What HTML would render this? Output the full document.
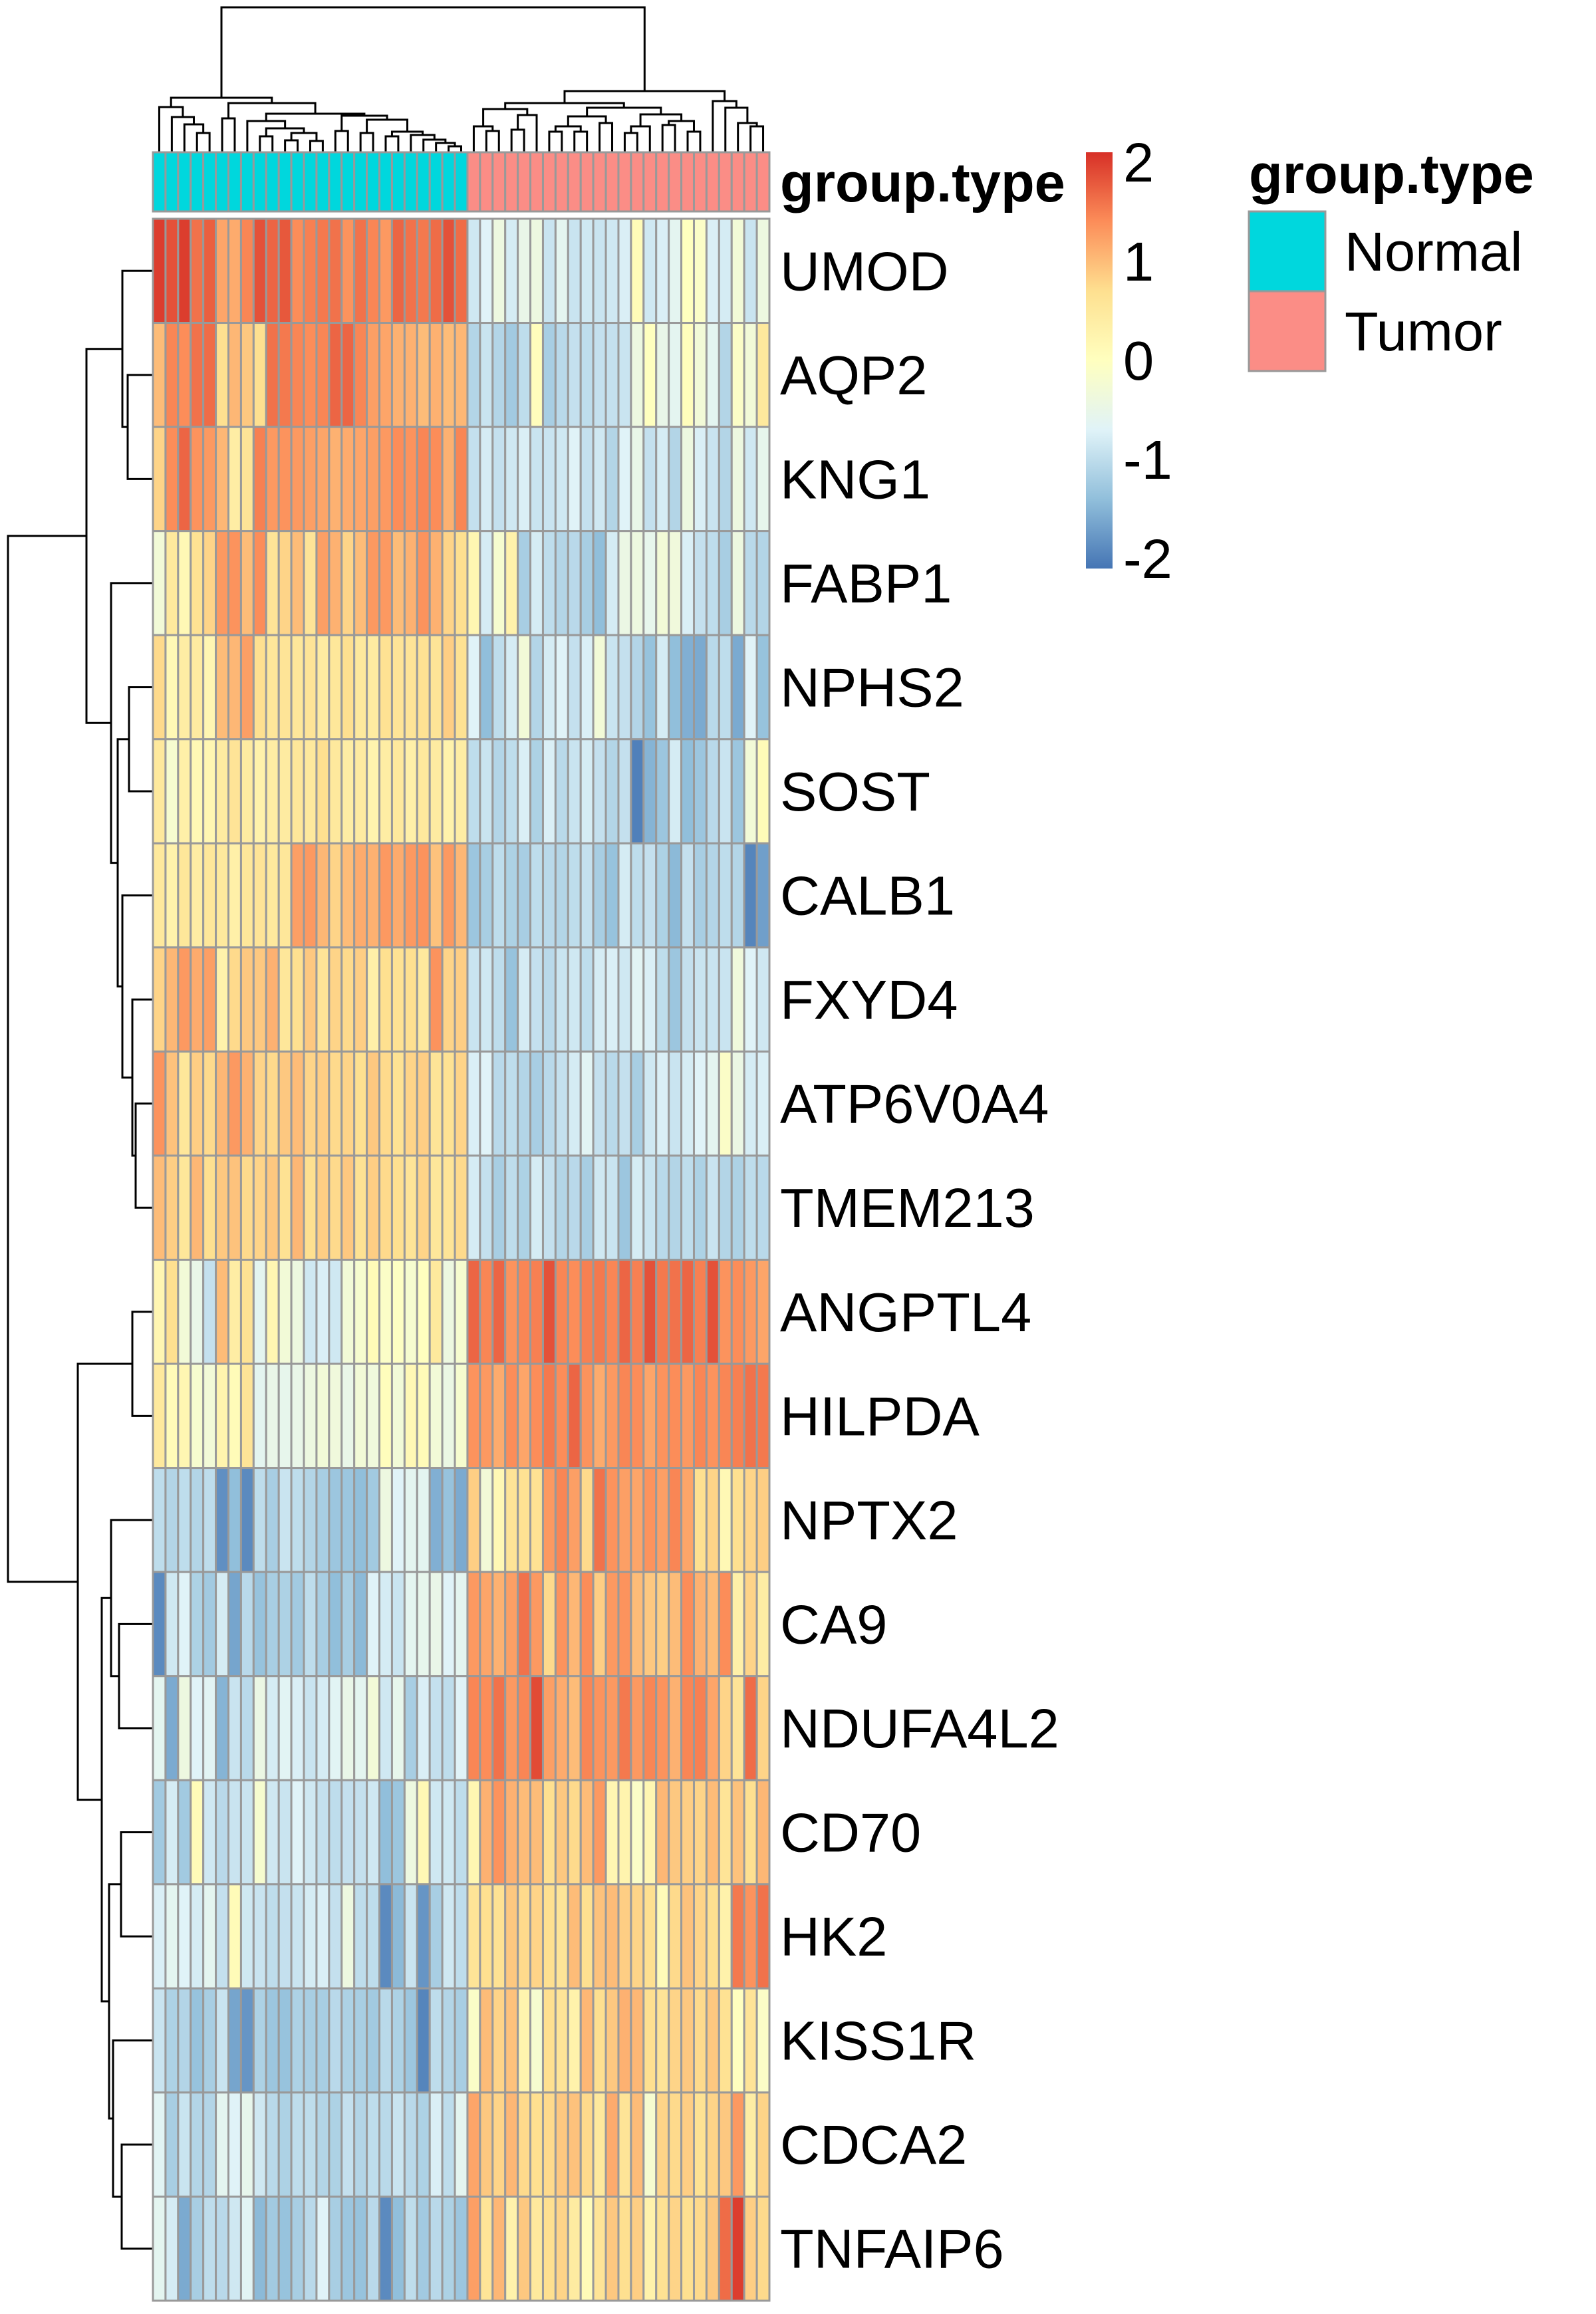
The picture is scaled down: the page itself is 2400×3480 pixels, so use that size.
<!DOCTYPE html>
<html><head><meta charset="utf-8">
<style>
html,body{margin:0;padding:0;background:#fff;}
svg{display:block;font-family:"Liberation Sans",Arial,sans-serif;}
</style></head>
<body>
<svg id="chart" width="2400" height="3480" viewBox="0 0 2400 3480" xmlns="http://www.w3.org/2000/svg">
<defs>
<linearGradient id="cbar" x1="0" y1="1" x2="0" y2="0">
<stop offset="0" stop-color="#4575B4"/><stop offset="0.1667" stop-color="#91BFDB"/><stop offset="0.3333" stop-color="#E0F3F8"/><stop offset="0.5" stop-color="#FFFFBF"/><stop offset="0.6667" stop-color="#FEE090"/><stop offset="0.8333" stop-color="#FC8D59"/><stop offset="1" stop-color="#D73027"/>
</linearGradient>
</defs>
<g id="col-dendro"></g>
<g id="row-dendro"></g>
<g id="annot"></g>
<g id="cells"></g>
<g id="rowlabels"></g>
<text x="1173" y="303" font-size="83" font-weight="bold">group.type</text>
<rect x="1633" y="229" width="40" height="626" fill="url(#cbar)"/>
<g id="cbticks"></g>
<g>
<text x="1878" y="290" font-size="83" font-weight="bold">group.type</text>
<rect x="1878" y="318" width="115" height="120" fill="#00D7DD" stroke="#999" stroke-width="3"/>
<rect x="1878" y="438" width="115" height="120" fill="#FB8D86" stroke="#999" stroke-width="3"/>
<text x="2022" y="407" font-size="83">Normal</text>
<text x="2022" y="527" font-size="83">Tumor</text>
</g>
</svg>
<script>
const genes = ["UMOD","AQP2","KNG1","FABP1","NPHS2","SOST","CALB1","FXYD4","ATP6V0A4","TMEM213","ANGPTL4","HILPDA","NPTX2","CA9","NDUFA4L2","CD70","HK2","KISS1R","CDCA2","TNFAIP6"];
const groups = ["Normal","Normal","Normal","Normal","Normal","Normal","Normal","Normal","Normal","Normal","Normal","Normal","Normal","Normal","Normal","Normal","Normal","Normal","Normal","Normal","Normal","Normal","Normal","Normal","Normal","Tumor","Tumor","Tumor","Tumor","Tumor","Tumor","Tumor","Tumor","Tumor","Tumor","Tumor","Tumor","Tumor","Tumor","Tumor","Tumor","Tumor","Tumor","Tumor","Tumor","Tumor","Tumor","Tumor","Tumor"];
const scaleTicks = [2,1,0,-1,-2];
const rowUMOD = [2.0,1.85,2.0,1.6,1.75,1.2,1.15,1.45,1.85,1.7,1.8,1.4,1.5,1.55,1.6,1.35,1.6,1.45,1.3,1.7,1.6,1.55,1.65,1.85,1.65,-0.85,-0.7,-0.4,-0.8,-0.5,-0.4,-0.9,-0.6,-0.9,-0.85,-0.9,-0.85,-0.75,0.1,-0.85,-0.75,-0.6,0,-0.1,-0.75,-0.8,-0.3,-0.9,-0.4];
const rowAQP2 = [1.0,1.45,1.4,1.6,1.65,0.7,1.05,0.9,0.7,1.6,1.55,1.45,1.4,1.45,1.7,1.7,1.45,1.25,1.2,1.1,1.1,1.0,1.1,1.0,1.05,-1.1,-0.9,-1.1,-1.25,-1.0,0.05,-1.2,-1.05,-0.95,-1.0,-0.95,-0.95,-0.9,-0.4,0.0,-0.5,-0.6,0.05,-0.3,-0.6,-1.1,-0.1,-0.3,0.5];
const rowKNG1 = [0.8,1.4,1.7,1.35,1.3,1.05,0.4,0.6,1.5,1.3,1.35,1.3,1.25,1.2,1.1,1.15,1.2,1.25,1.3,1.4,1.35,1.45,1.4,1.1,1.45,-0.95,-0.8,-0.95,-0.85,-0.75,-0.9,-0.9,-0.85,-0.7,-0.95,-0.85,-1.1,-0.7,-0.5,-0.95,-0.8,-1.1,-0.4,-0.75,-0.9,-1.1,-0.4,-0.85,-0.55];
const rowFABP1 = [-0.3,0.5,0.15,0.65,0.8,1.3,1.35,1.0,1.4,0.6,0.8,1.0,0.6,1.25,1.1,0.8,1.0,1.3,1.3,1.0,1.1,1.35,1.1,0.8,0.7,0.2,-0.8,-0.2,0.3,-1.2,-0.8,-1.0,-1.1,-1.05,-1.2,-1.4,-0.8,-0.45,-0.4,-0.55,-0.3,-0.35,-0.75,-0.95,-1.0,-1.2,-0.4,-1.05,-1.1];
const rowNPHS2 = [0.75,0.15,0.4,0.45,0.2,1.0,1.05,1.25,0.7,0.55,0.6,0.55,0.6,0.45,0.55,0.7,0.5,0.45,0.65,0.6,0.6,0.65,0.6,0.85,0.65,-0.7,-1.4,-1.0,-0.8,-0.3,-1.1,-0.8,-0.7,-0.95,-0.75,-0.3,-0.9,-0.95,-1.1,-1.35,-0.8,-1.4,-1.55,-1.6,-1.05,-1.0,-1.6,-0.7,-1.35];
const rowSOST = [0.5,-0.2,0.35,0.15,0.2,0.45,0.6,0.45,0.3,0.4,0.45,0.55,0.5,0.7,0.5,0.4,0.45,0.25,0.4,0.5,0.35,0.5,0.45,0.3,0.4,-1.0,-0.9,-1.1,-1.0,-0.75,-1.15,-0.75,-1.05,-0.9,-0.8,-0.95,-1.1,-0.95,-2.0,-1.5,-1.3,-0.8,-1.4,-1.3,-1.05,-0.9,-1.3,-0.3,0.1];
const rowCALB1 = [0.5,0.3,0.55,0.4,0.55,0.5,0.35,0.55,0.6,0.5,0.55,1.25,1.3,1.05,0.8,1.0,1.15,1.1,1.3,1.15,1.3,1.35,0.95,1.3,1.05,-1.3,-1.2,-1.0,-1.15,-1.2,-1.0,-1.05,-1.1,-1.0,-0.95,-1.2,-1.35,-0.8,-1.0,-0.95,-1.15,-1.45,-0.95,-1.2,-1.1,-1.0,-1.1,-1.95,-1.7];
const rowFXYD4 = [0.8,1.05,1.3,1.15,1.25,0.3,0.75,0.9,0.9,1.1,0.55,0.7,0.9,0.6,0.8,0.75,0.85,0.35,0.7,0.65,0.7,0.5,1.35,0.8,0.85,-0.9,-0.85,-1.0,-1.35,-0.8,-0.95,-1.05,-0.9,-0.85,-1.0,-0.8,-0.75,-0.85,-0.65,-0.75,-1.0,-1.3,-0.95,-0.9,-0.9,-0.9,-0.35,-0.7,-0.85];
const rowATP6V0A4 = [1.35,0.95,0.55,0.85,0.75,1.05,1.3,1.1,0.8,0.75,0.9,1.0,0.8,0.85,0.75,0.8,0.7,0.9,0.75,0.65,0.8,0.85,0.6,0.65,0.8,-0.75,-0.7,-1.05,-1.0,-1.1,-1.2,-1.05,-0.95,-0.8,-0.65,-0.95,-1.05,-0.95,-1.2,-0.85,-0.75,-0.9,-0.8,-0.7,-0.6,-0.1,-0.45,-0.8,-0.75];
const rowTMEM213 = [1.0,0.85,0.55,1.05,0.7,0.9,0.95,0.75,0.8,0.9,0.65,1.05,0.7,0.85,0.75,0.9,0.65,0.85,0.75,0.7,0.6,0.8,0.55,0.6,0.75,-0.8,-0.95,-1.2,-1.0,-1.15,-0.8,-0.95,-1.1,-1.05,-1.2,-0.85,-0.9,-1.3,-0.8,-0.9,-1.05,-1.1,-1.0,-1.15,-0.9,-1.1,-1.15,-1.0,-1.05];
const rowANGPTL4 = [0.2,0.7,-0.3,-0.5,-0.95,1.0,0.4,0.65,-0.6,0.2,-0.3,-0.4,-0.85,-0.75,-0.85,-0.3,-0.2,0.1,-0.1,-0.05,-0.2,0.0,0.5,-0.4,-0.2,1.7,1.45,1.7,1.35,1.45,1.5,1.85,1.45,1.4,1.5,1.55,1.45,1.7,1.5,1.85,1.55,1.6,1.7,1.5,1.85,1.35,1.4,1.3,1.2];
const rowHILPDA = [0.5,0.1,0.2,-0.2,-0.3,0.25,0.1,0.6,-0.6,-0.5,-0.55,-0.5,-0.4,-0.3,-0.35,-0.5,-0.3,-0.35,0.05,-0.3,0.15,0.1,-0.3,-0.45,-0.2,1.35,1.3,1.15,1.4,1.2,1.4,1.55,1.4,1.7,1.35,1.15,1.3,1.45,1.4,1.2,1.35,1.4,1.3,1.45,1.35,1.45,1.5,1.6,1.55];
const rowNPTX2 = [-1.0,-1.1,-1.0,-1.1,-1.0,-1.85,-1.4,-1.9,-1.0,-1.2,-0.9,-1.0,-1.1,-1.2,-1.3,-1.3,-1.4,-1.25,-0.4,-0.7,-0.6,-0.6,-1.55,-1.35,-1.6,0.85,-0.3,0.15,0.6,0.65,0.65,1.3,1.45,1.25,0.75,1.6,1.35,1.25,1.2,1.35,1.25,1.45,1.2,0.7,0.8,0.15,0.7,0.8,0.85];
const rowCA9 = [-1.9,-0.85,-0.7,-1.15,-1.25,-0.8,-1.65,-1.05,-1.35,-1.2,-1.15,-1.25,-1.0,-1.2,-1.4,-1.2,-1.45,-0.7,-0.8,-0.9,-0.6,-0.55,-0.5,-0.7,-0.6,1.3,1.2,1.1,1.25,1.6,1.3,0.75,1.35,1.05,1.4,0.85,1.3,1.35,1.0,0.9,0.85,1.0,1.4,1.1,1.0,1.4,0.35,0.8,0.4];
const rowNDUFA4L2 = [-0.6,-1.6,-0.4,-0.7,-0.65,-1.5,-0.9,-1.05,-0.45,-0.8,-0.65,-0.75,-0.9,-0.8,-0.65,-0.5,-0.6,-0.3,-0.85,-0.55,-1.2,-0.75,-0.95,-1.0,-0.7,1.45,1.4,1.6,1.3,1.45,1.9,1.25,1.15,1.0,1.45,1.35,1.3,1.55,1.3,1.45,1.35,1.1,1.45,1.5,1.2,0.8,0.6,1.65,0.8];
const rowCD70 = [-1.25,-0.8,-1.25,0.1,-0.85,-1.05,-0.9,-0.9,-0.2,-0.85,-0.9,-0.7,-0.85,-0.95,-1.0,-0.95,-0.95,-0.85,-1.4,-1.3,-0.4,0.15,-0.85,-0.85,-1.0,0.2,1.1,1.35,1.1,1.0,1.0,0.7,0.9,0.75,1.0,1.3,0.2,0.25,-0.1,0.2,1.05,0.9,0.85,0.8,1.0,0.6,0.95,0.7,1.05];
const rowHK2 = [-0.75,-0.6,-0.7,-0.8,-0.6,-0.95,0.1,-0.85,-0.9,-1.0,-0.95,-0.9,-0.8,-0.75,-0.95,-0.4,-1.0,-1.0,-1.9,-1.45,-0.9,-1.8,-1.2,-0.85,-1.0,0.6,0.7,0.65,0.9,0.75,0.8,0.7,0.6,1.0,0.7,0.95,1.0,0.85,0.8,0.7,0.1,0.75,0.95,0.8,0.7,0.3,1.55,1.35,1.6];
const rowKISS1R = [-0.9,-1.15,-1.1,-1.35,-1.2,-0.9,-1.65,-1.8,-1.15,-1.3,-1.35,-1.15,-1.2,-1.2,-1.05,-1.15,-1.2,-1.25,-1.05,-1.15,-1.3,-1.95,-1.0,-1.1,-1.2,-0.1,1.0,0.8,0.95,0.25,-0.2,0.7,0.6,0.3,1.05,0.7,0.9,1.1,1.05,0.7,0.6,0.8,0.9,0.75,0.9,0.65,0.0,0.6,-0.1];
const rowCDCA2 = [-0.65,-1.2,-0.9,-1.1,-1.1,-0.6,-0.7,-0.55,-0.85,-1.05,-1.15,-1.0,-1.0,-1.1,-1.15,-0.95,-1.1,-1.0,-1.05,-0.9,-1.05,-1.15,-0.75,-1.0,-0.6,1.2,0.9,0.8,1.05,0.75,0.7,0.75,0.9,0.95,0.75,0.5,1.15,0.6,1.0,-0.2,0.8,0.75,0.85,0.65,0.8,0.9,1.3,0.4,0.8];
const rowTNFAIP6 = [-0.6,-0.8,-1.6,-1.2,-1.0,-1.05,-0.85,-0.65,-1.45,-1.25,-1.35,-1.2,-1.05,-0.7,-1.2,-1.3,-1.35,-1.05,-1.9,-1.4,-1.0,-1.25,-1.05,-1.15,-1.3,1.25,0.6,1.05,0.3,0.9,0.5,0.7,0.8,0.45,0.1,0.6,0.9,0.7,0.85,0.3,0.65,0.8,0.7,0.75,0.9,1.65,2.0,0.85,0.75];
const matrix = [rowUMOD,rowAQP2,rowKNG1,rowFABP1,rowNPHS2,rowSOST,rowCALB1,rowFXYD4,rowATP6V0A4,rowTMEM213,rowANGPTL4,rowHILPDA,rowNPTX2,rowCA9,rowNDUFA4L2,rowCD70,rowHK2,rowKISS1R,rowCDCA2,rowTNFAIP6];
// dendrogram merge trees: [height, left, right]; leaves are indices
const colTree = [11,
 [147,[161,0,[176,1,[187,2,[200,3,4]]]],[155,[178,5,6],[171,[182,7,[193,[205,8,9],[200,[211,10,11],[212,12,13]]]],[174,[197,14,15],[180,[200,16,17],[198,[205,18,19],[203,20,[210,21,[215,22,[220,23,24]]]]]]]]]],
 [137,[155,[164,[190,25,[197,26,27]],[173,[195,28,29],30]],[162,[175,[190,[198,31,32],[198,33,34]],[185,35,36]],[172,[190,[200,37,38],39],[182,[188,40,41],[198,42,43]]]]],[152,44,[162,45,[185,46,[190,47,48]]]]]];
const rowTree = [12,
 [130,[184,0,[192,1,2]],[167,3,[177,[194,4,5],[184,6,[199,7,[204,8,9]]]]]],
 [117,[199,10,11],[153,[167,12,[179,13,14]],[164,[182,15,16],[170,17,[183,18,19]]]]]];

const NS="http://www.w3.org/2000/svg";
const X0=230, X1=1157, Y0=329, Y1=3460, AY0=229, AY1=318;
const nCol=groups.length, nRow=genes.length;
const cw=(X1-X0)/nCol, rh=(Y1-Y0)/nRow;
const xOf=i=>X0+i*cw, yOf=r=>Y0+r*rh;
const vmin=-2.1, vmax=2.1;
const pal=["#4575B4","#91BFDB","#E0F3F8","#FFFFBF","#FEE090","#FC8D59","#D73027"].map(h=>[1,3,5].map(k=>parseInt(h.substr(k,2),16)));
function colorOf(v){let t=(Math.max(vmin,Math.min(vmax,v))-vmin)/(vmax-vmin)*(pal.length-1);let i=Math.min(Math.floor(t),pal.length-2);let f=t-i;const c=pal[i].map((a,k)=>Math.round(a+(pal[i+1][k]-a)*f));return `rgb(${c[0]},${c[1]},${c[2]})`;}
function mk(tag,attrs,parent){const e=document.createElementNS(NS,tag);for(const k in attrs)e.setAttribute(k,attrs[k]);parent.appendChild(e);return e;}

const cells=document.getElementById('cells');
matrix.forEach((row,r)=>{row.forEach((v,c)=>{
  const e=mk('rect',{x:xOf(c),y:yOf(r),width:cw,height:rh,fill:colorOf(v),stroke:'#999999','stroke-width':3},cells);
  
  
});});
const annot=document.getElementById('annot');
groups.forEach((g,c)=>{
  const e=mk('rect',{x:xOf(c),y:AY0,width:cw,height:AY1-AY0,fill:g==='Normal'?'#00D7DD':'#FB8D86',stroke:'#999999','stroke-width':3},annot);
  
  
});
const rl=document.getElementById('rowlabels');
genes.forEach((g,r)=>{
  const t=mk('text',{x:1173,y:yOf(r)+rh/2+29,'font-size':83},rl);t.textContent=g;
  
  
});
const cb=document.getElementById('cbticks');
scaleTicks.forEach(v=>{
  const y=229+(vmax-v)/(vmax-vmin)*626;
  const t=mk('text',{x:1689,y:y+29,'font-size':83},cb);t.textContent=String(v);
  
  
});
function drawCol(node,g){ if(typeof node==='number') return {p:xOf(node)+cw/2,h:AY0};
  const a=drawCol(node[1],g), b=drawCol(node[2],g), h=node[0];
  mk('path',{d:`M${a.p},${a.h}V${h}H${b.p}V${b.h}`,fill:'none',stroke:'#000','stroke-width':3},g);
  return {p:(a.p+b.p)/2,h:h};}
function drawRow(node,g){ if(typeof node==='number') return {p:yOf(node)+rh/2,h:X0};
  const a=drawRow(node[1],g), b=drawRow(node[2],g), h=node[0];
  mk('path',{d:`M${a.h},${a.p}H${h}V${b.p}H${b.h}`,fill:'none',stroke:'#000','stroke-width':3},g);
  return {p:(a.p+b.p)/2,h:h};}
drawCol(colTree,document.getElementById('col-dendro'));
drawRow(rowTree,document.getElementById('row-dendro'));
</script>
</body></html>
